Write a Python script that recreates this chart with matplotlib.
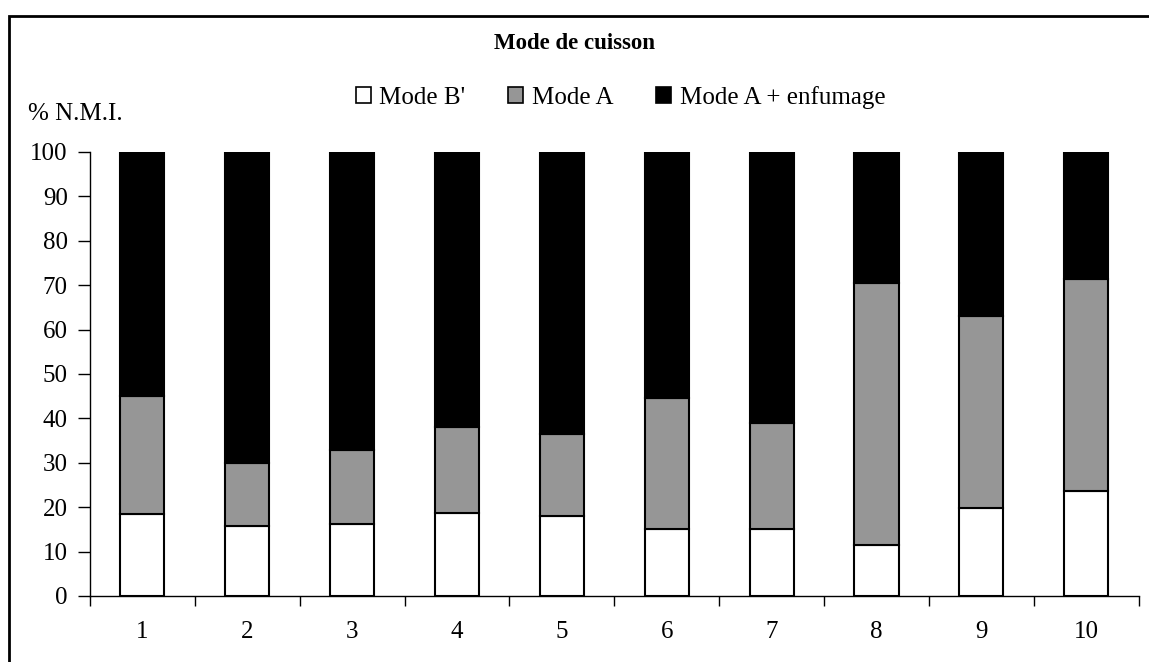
import numpy as np
import matplotlib
matplotlib.use("Agg")
import matplotlib.pyplot as plt
from matplotlib.patches import Patch, Rectangle

plt.rcParams["font.family"] = ["Liberation Serif", "DejaVu Serif"]

# données
categories = ["1", "2", "3", "4", "5", "6", "7", "8", "9", "10"]
mode_b = [18.5, 15.8, 16.3, 18.8, 18.0, 15.0, 15.0, 11.5, 19.8, 23.6]
mode_a = [26.5, 14.1, 16.6, 19.2, 18.5, 29.7, 24.0, 59.0, 43.3, 47.8]
mode_a_enf = [55.0, 70.1, 67.1, 62.0, 63.5, 55.3, 61.0, 29.5, 36.9, 28.6]
series_names = ["Mode B'", "Mode A", "Mode A + enfumage"]
colors = ["white", "#969696", "black"]

fs = 18

fig = plt.figure(figsize=(11.49, 6.62), dpi=100)
ax = fig.add_axes([0.0783, 0.0997, 0.9127, 0.6707])

x = np.arange(1, len(categories) + 1)
bottom = np.zeros(len(categories))
for vals, col in zip([mode_b, mode_a, mode_a_enf], colors):
    ax.bar(x, vals, 0.42, bottom=bottom, color=col, edgecolor="black",
           linewidth=1.5, zorder=3)
    bottom += np.array(vals)

ax.set_xlim(0.5, len(categories) + 0.5)
ax.set_ylim(0, 100)
ax.set_yticks(np.arange(0, 101, 10))
ax.set_yticklabels([str(v) for v in range(0, 101, 10)], fontsize=fs)
ax.set_xticks(x)
ax.set_xticklabels(categories, fontsize=fs)
ax.tick_params(axis="x", which="major", length=0, pad=18)
ax.set_xticks(np.arange(0.5, len(categories) + 1), minor=True)
ax.tick_params(axis="x", which="minor", length=7, width=1, direction="out")
ax.tick_params(axis="y", length=9, width=1, direction="out", pad=7)
for s in ["top", "right"]:
    ax.spines[s].set_visible(False)
ax.spines["left"].set_linewidth(1)
ax.spines["bottom"].set_linewidth(1)

fig.text(0.5, 0.935, "Mode de cuisson", ha="center", va="center",
         fontsize=16.5, fontweight="bold")
fig.text(0.024, 0.828, "% N.M.I.", ha="left", va="center", fontsize=fs)

handles = [Patch(facecolor=c, edgecolor="black", linewidth=1.2) for c in colors]
fig.legend(handles, series_names, loc="center", bbox_to_anchor=(0.54, 0.853),
           ncol=3, frameon=False, fontsize=fs, handlelength=0.6,
           handleheight=0.6, handletextpad=0.35, columnspacing=1.7)

# cadre du graphique (coupé à droite et en bas)
fig.patches.append(Rectangle((0.0078, -0.1), 1.1, 1.0758, transform=fig.transFigure,
                             fill=False, edgecolor="black", linewidth=2))

fig.savefig("out.png", dpi=100)
